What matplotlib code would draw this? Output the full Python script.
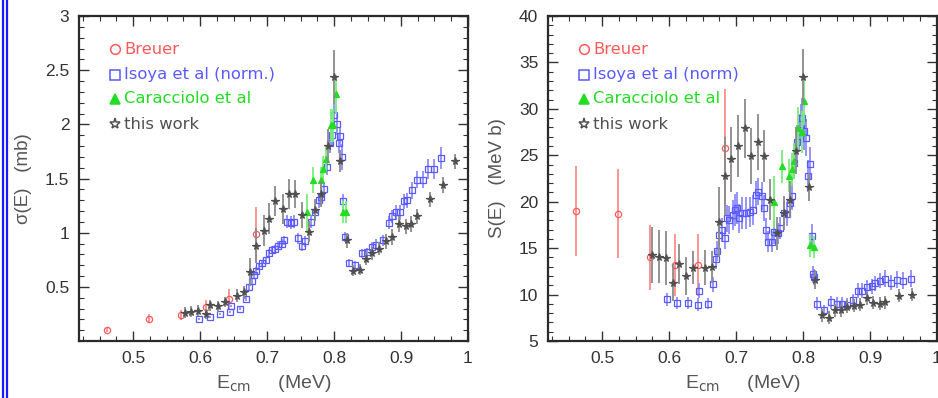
import numpy as np
import matplotlib.pyplot as plt
from matplotlib.ticker import MultipleLocator

# ---- data ----
# Breuer
E_breuer = [0.461, 0.524, 0.571, 0.609, 0.643, 0.684]
sig_breuer = [0.105, 0.207, 0.24, 0.31, 0.39, 0.99]
sig_breuer_err = [0.02, 0.04, 0.05, 0.07, 0.09, 0.25]
S_breuer = [19.0, 18.7, 14.0, 13.2, 13.2, 25.8]
S_breuer_err = [4.8, 4.8, 3.5, 3.3, 3.3, 6.3]

# Isoya et al (norm.) - cross section panel
E_isoya_sig = [0.599, 0.614, 0.630, 0.645, 0.646, 0.660, 0.668, 0.673, 0.677, 0.680,
               0.684, 0.688, 0.693, 0.698, 0.703, 0.708, 0.712, 0.717, 0.722, 0.725,
               0.730, 0.735, 0.740, 0.746, 0.752, 0.757, 0.765, 0.772, 0.777, 0.781,
               0.785, 0.790, 0.794, 0.797, 0.800, 0.804, 0.807, 0.809, 0.812, 0.814,
               0.816, 0.822, 0.831, 0.841, 0.849, 0.857, 0.862, 0.873, 0.882, 0.887,
               0.892, 0.899, 0.904, 0.909, 0.916, 0.924, 0.933, 0.941, 0.949, 0.960]
sig_isoya = [0.20, 0.22, 0.25, 0.27, 0.32, 0.30, 0.39, 0.50, 0.55, 0.61,
             0.65, 0.69, 0.72, 0.75, 0.81, 0.84, 0.85, 0.88, 0.90, 0.93,
             1.10, 1.09, 1.10, 0.95, 0.88, 0.92, 1.10, 1.19, 1.30, 1.33,
             1.40, 1.61, 1.83, 1.90, 2.09, 2.00, 1.83, 1.89, 1.70, 1.29,
             0.96, 0.72, 0.70, 0.81, 0.82, 0.87, 0.89, 0.93, 1.09, 1.15,
             1.19, 1.19, 1.29, 1.30, 1.39, 1.49, 1.49, 1.59, 1.59, 1.69]
sig_isoya_err = [0.01, 0.01, 0.01, 0.01, 0.01, 0.01, 0.02, 0.03, 0.03, 0.03,
                 0.03, 0.03, 0.03, 0.03, 0.04, 0.04, 0.04, 0.04, 0.04, 0.04,
                 0.06, 0.06, 0.06, 0.05, 0.05, 0.05, 0.06, 0.06, 0.07, 0.07,
                 0.07, 0.08, 0.09, 0.09, 0.10, 0.10, 0.09, 0.09, 0.12, 0.07,
                 0.05, 0.04, 0.04, 0.04, 0.04, 0.04, 0.05, 0.05, 0.06, 0.06,
                 0.07, 0.07, 0.07, 0.07, 0.08, 0.08, 0.08, 0.09, 0.09, 0.10]

# Isoya et al (norm) - S factor panel
E_isoya_S = [0.597, 0.612, 0.628, 0.643, 0.644, 0.658, 0.666, 0.670, 0.672, 0.675,
             0.679, 0.683, 0.686, 0.690, 0.695, 0.698, 0.701, 0.705, 0.709, 0.715,
             0.720, 0.725, 0.729, 0.733, 0.738, 0.741, 0.745, 0.748, 0.753, 0.757,
             0.763, 0.766, 0.772, 0.776, 0.780, 0.783, 0.787, 0.791, 0.794, 0.797,
             0.799, 0.802, 0.805, 0.807, 0.810, 0.813, 0.815, 0.817, 0.821, 0.831,
             0.841, 0.850, 0.858, 0.866, 0.875, 0.882, 0.888, 0.895, 0.903, 0.908,
             0.915, 0.923, 0.931, 0.941, 0.950, 0.961]
S_isoya = [9.5, 9.1, 9.1, 8.9, 10.4, 9.0, 11.1, 13.8, 14.7, 16.4,
           17.0, 16.1, 18.2, 18.0, 18.6, 19.1, 19.3, 18.2, 18.8, 18.8,
           18.9, 19.1, 20.7, 21.1, 20.6, 19.3, 17.0, 15.7, 15.7, 16.7,
           16.6, 17.2, 18.8, 18.7, 19.9, 20.6, 24.2, 26.4, 27.5, 28.4,
           29.0, 27.6, 26.9, 22.8, 24.1, 16.3, 12.2, 11.9, 9.0, 8.3,
           9.2, 9.0, 9.0, 8.9, 9.4, 10.4, 10.4, 10.8, 10.9, 11.2,
           11.5, 11.7, 11.3, 11.6, 11.5, 11.7]
S_isoya_err = [0.7, 0.6, 0.6, 0.7, 0.8, 0.6, 0.8, 1.0, 1.1, 1.2,
               1.3, 1.2, 1.5, 1.5, 1.6, 1.7, 1.7, 1.6, 1.7, 1.7,
               1.6, 1.6, 1.5, 1.5, 1.5, 1.4, 1.2, 1.1, 1.1, 1.2,
               1.1, 1.2, 1.3, 1.3, 1.4, 1.5, 1.7, 1.9, 2.0, 2.1,
               2.2, 2.0, 2.0, 1.7, 1.8, 1.3, 0.9, 0.9, 0.7, 0.6,
               0.7, 0.7, 0.7, 0.7, 0.7, 0.8, 0.8, 0.8, 0.8, 0.8,
               0.8, 0.9, 0.8, 0.9, 0.9, 0.9]

# Caracciolo et al
E_carac_sig = [0.760, 0.769, 0.780, 0.783, 0.788, 0.795, 0.799, 0.803, 0.813, 0.818]
sig_carac = [1.19, 1.49, 1.49, 1.59, 1.68, 1.99, 1.99, 2.28, 1.19, 1.19]
sig_carac_err = [0.17, 0.12, 0.12, 0.12, 0.12, 0.15, 0.15, 0.18, 0.10, 0.10]
E_carac_S = [0.757, 0.769, 0.779, 0.783, 0.787, 0.792, 0.798, 0.801, 0.811, 0.817]
S_carac = [20.0, 23.8, 22.8, 23.5, 24.4, 27.9, 27.5, 30.8, 15.3, 15.1]
S_carac_err = [2.8, 1.8, 1.8, 1.8, 1.9, 2.3, 2.3, 2.5, 1.2, 1.2]

# this work
E_work_sig = [0.577, 0.587, 0.597, 0.608, 0.615, 0.626, 0.637, 0.655, 0.665, 0.675,
              0.684, 0.695, 0.703, 0.712, 0.723, 0.732, 0.742, 0.752, 0.762, 0.771,
              0.781, 0.791, 0.800, 0.809, 0.819, 0.828, 0.838, 0.848, 0.857, 0.867,
              0.877, 0.887, 0.897, 0.907, 0.915, 0.924, 0.944, 0.963, 0.981]
sig_work = [0.26, 0.27, 0.28, 0.25, 0.33, 0.32, 0.36, 0.42, 0.45, 0.64,
            0.88, 1.02, 1.13, 1.29, 1.22, 1.36, 1.36, 1.16, 1.01, 1.21,
            1.36, 1.80, 2.44, 1.66, 0.93, 0.65, 0.66, 0.76, 0.81, 0.85,
            0.92, 0.96, 1.08, 1.06, 1.08, 1.15, 1.31, 1.44, 1.66]
sig_work_err = [0.05, 0.05, 0.05, 0.045, 0.05, 0.05, 0.05, 0.06, 0.06, 0.13,
                0.16, 0.14, 0.14, 0.14, 0.14, 0.14, 0.13, 0.12, 0.10, 0.10,
                0.12, 0.16, 0.25, 0.10, 0.07, 0.05, 0.05, 0.06, 0.06, 0.06,
                0.07, 0.07, 0.07, 0.07, 0.07, 0.07, 0.07, 0.07, 0.07]
E_work_S = [0.575, 0.585, 0.596, 0.605, 0.615, 0.625, 0.635, 0.654, 0.664, 0.674,
            0.684, 0.693, 0.703, 0.713, 0.722, 0.732, 0.742, 0.751, 0.761, 0.771,
            0.781, 0.790, 0.800, 0.809, 0.818, 0.828, 0.838, 0.848, 0.857, 0.866,
            0.876, 0.885, 0.896, 0.905, 0.915, 0.923, 0.944, 0.963]
S_work = [14.3, 14.1, 13.9, 11.3, 13.3, 12.0, 12.9, 12.9, 13.0, 17.8,
          22.8, 24.6, 26.0, 27.9, 24.9, 26.4, 24.9, 20.2, 16.6, 18.8,
          20.2, 25.5, 33.4, 21.6, 11.6, 7.8, 7.5, 8.3, 8.3, 8.7,
          8.8, 8.9, 9.6, 9.1, 9.0, 9.2, 9.9, 10.0]
S_work_err = [3.0, 2.9, 2.9, 2.0, 2.2, 2.0, 1.8, 1.9, 1.7, 3.8,
              4.2, 3.5, 3.3, 3.2, 3.0, 3.0, 2.8, 2.2, 1.8, 1.8,
              2.0, 2.5, 3.0, 1.5, 1.0, 0.7, 0.7, 0.7, 0.7, 0.7,
              0.7, 0.7, 0.7, 0.7, 0.7, 0.7, 0.7, 0.7]

labels_sig = ['Breuer', 'Isoya et al (norm.)', 'Caracciolo et al', 'this work']
labels_S = ['Breuer', 'Isoya et al (norm)', 'Caracciolo et al', 'this work']

red = '#ff5a5a'
blue = '#5a5aff'
green = '#22dd22'
grey = '#505050'

plt.rcParams['font.family'] = ['Liberation Sans', 'DejaVu Sans']

fig = plt.figure(figsize=(9.38, 3.98), dpi=100)
ax1 = fig.add_axes([0.0842, 0.1432, 0.4147, 0.8166])
ax2 = fig.add_axes([0.5842, 0.1432, 0.4147, 0.8166])

# double blue rule at the left edge
fig.add_artist(plt.Line2D([0.0027, 0.0027], [0, 1], color='#1a1aff', lw=1.6))
fig.add_artist(plt.Line2D([0.0075, 0.0075], [0, 1], color='#1a1aff', lw=1.6))


def draw(ax, sets, labels, ylab):
    markers = ['o', 's', '^', '*']
    colors = [red, blue, green, grey]
    ecolors = ['#ff8c8c', '#8c8cff', '#77ee77', '#8a8a8a']
    fills = ['none', 'none', green, grey]
    sizes = [4.5, 4.2, 5.0, 5.5]
    order = [1, 3, 2, 0]  # isoya first, then this work, carac, breuer on top
    for i in order:
        x, y, e = sets[i]
        ax.errorbar(x, y, yerr=e, fmt=markers[i], ms=sizes[i], mfc=fills[i],
                    mec=colors[i], mew=0.9, ecolor=ecolors[i], elinewidth=1.3,
                    capsize=0, zorder=3 + i)
    # legend drawn by hand: marker + coloured text
    ys = [0.897, 0.82, 0.745, 0.667]
    for i in range(4):
        ax.plot([0.093], [ys[i]], marker=markers[i], ms=7 if i < 3 else 8,
                mfc=(green if i == 2 else 'none'), mec=colors[i], mew=1.1,
                transform=ax.transAxes, clip_on=False)
        ax.text(0.117, ys[i], labels[i], color=colors[i], fontsize=11.8,
                va='center', ha='left', transform=ax.transAxes,
                family=['DejaVu Sans'])

    ax.set_xlim(0.419, 1.0)
    ax.xaxis.set_minor_locator(MultipleLocator(0.025))
    ax.set_xticks([0.5, 0.6, 0.7, 0.8, 0.9, 1.0])
    ax.set_xticklabels(['0.5', '0.6', '0.7', '0.8', '0.9', '1'])
    ax.tick_params(which='both', direction='in', top=True, right=True,
                   colors='#333333', labelsize=12.5, pad=7)
    ax.tick_params(which='major', length=7, width=1)
    ax.tick_params(which='minor', length=3.5, width=0.8)
    for sp in ax.spines.values():
        sp.set_linewidth(1.6)
        sp.set_color('#2a2a2a')
    ax.set_xlabel('E$_{\\rm cm}$     (MeV)', fontsize=14, color='#555555', labelpad=5)
    ax.set_ylabel(ylab, fontsize=13.5, color='#555555', labelpad=9)


draw(ax1,
     [(E_breuer, sig_breuer, sig_breuer_err),
      (E_isoya_sig, sig_isoya, sig_isoya_err),
      (E_carac_sig, sig_carac, sig_carac_err),
      (E_work_sig, sig_work, sig_work_err)],
     labels_sig, 'σ(E)   (mb)')
ax1.set_ylim(0, 3)
ax1.yaxis.set_minor_locator(MultipleLocator(0.1))
ax1.set_yticks([0.5, 1, 1.5, 2, 2.5, 3])
ax1.set_yticklabels(['0.5', '1', '1.5', '2', '2.5', '3'])

draw(ax2,
     [(E_breuer, S_breuer, S_breuer_err),
      (E_isoya_S, S_isoya, S_isoya_err),
      (E_carac_S, S_carac, S_carac_err),
      (E_work_S, S_work, S_work_err)],
     labels_S, 'S(E)   (MeV b)')
ax2.set_ylim(5, 40)
ax2.yaxis.set_major_locator(MultipleLocator(5))
ax2.yaxis.set_minor_locator(MultipleLocator(1))

fig.savefig('out.png', dpi=100)
